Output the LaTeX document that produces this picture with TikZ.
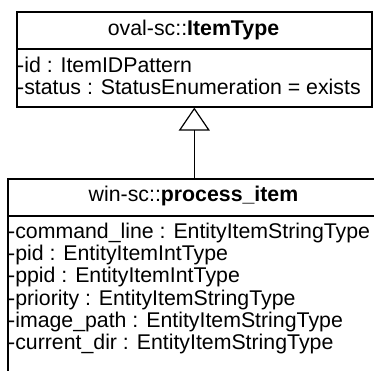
\documentclass[tikz,border=0pt]{standalone}
\usepackage{fontspec}
\setmainfont{Liberation Sans}
\usetikzlibrary{arrows.meta}
\begin{document}
\begin{tikzpicture}[x=1pt,y=1pt,
  box/.style={draw=black, line width=1.6pt, fill=white, anchor=north west, inner sep=0pt},
  attr/.style={anchor=base west, inner sep=0pt, font=\fontsize{21.3}{25}\selectfont},
  ttl/.style={anchor=base, inner sep=0pt, font=\fontsize{21.3}{25}\selectfont},
  divider/.style={line width=1.6pt},
  gen/.style={line width=1.2pt, -{Triangle[open, length=23pt, width=31pt, line width=1.2pt]}}]
\useasboundingbox (0,0) rectangle (374,-371);
\clip (0,0) rectangle (374,-371);
% superclass
\node[box, minimum width=355pt, minimum height=95pt] (super) at (16,-11) {};
\coordinate (sd) at (0,-49);
\draw[divider] (super.west |- sd) -- (super.east |- sd);
\node[ttl] (stitle) at (193.5,-35.7) {oval-sc::\textbf{ItemType}};
\node[attr] (s1) at (17,-72.7) {-id : ItemIDPattern};
\node[attr] (s2) at (17,-95) {-status : StatusEnumeration = exists};
% subclass
\node[box, minimum width=373pt, minimum height=220pt] (sub) at (7,-178) {};
\coordinate (bd) at (0,-216);
\draw[divider] (sub.west |- bd) -- (sub.east |- bd);
\node[ttl] (btitle) at (193.5,-201.7) {win-sc::\textbf{process\_item}};
\node[attr] (b1) at (8,-238) {-command\_line : EntityItemStringType};
\node[attr] (b2) at (8,-260.5) {-pid : EntityItemIntType};
\node[attr] (b3) at (8,-282.8) {-ppid : EntityItemIntType};
\node[attr] (b4) at (8,-305) {-priority : EntityItemStringType};
\node[attr] (b5) at (8,-327.3) {-image\_path : EntityItemStringType};
\node[attr] (b6) at (8,-349.6) {-current\_dir : EntityItemStringType};
% generalization
\draw[gen] (sub.north -| super.south) -- (super.south);
\end{tikzpicture}
\end{document}
